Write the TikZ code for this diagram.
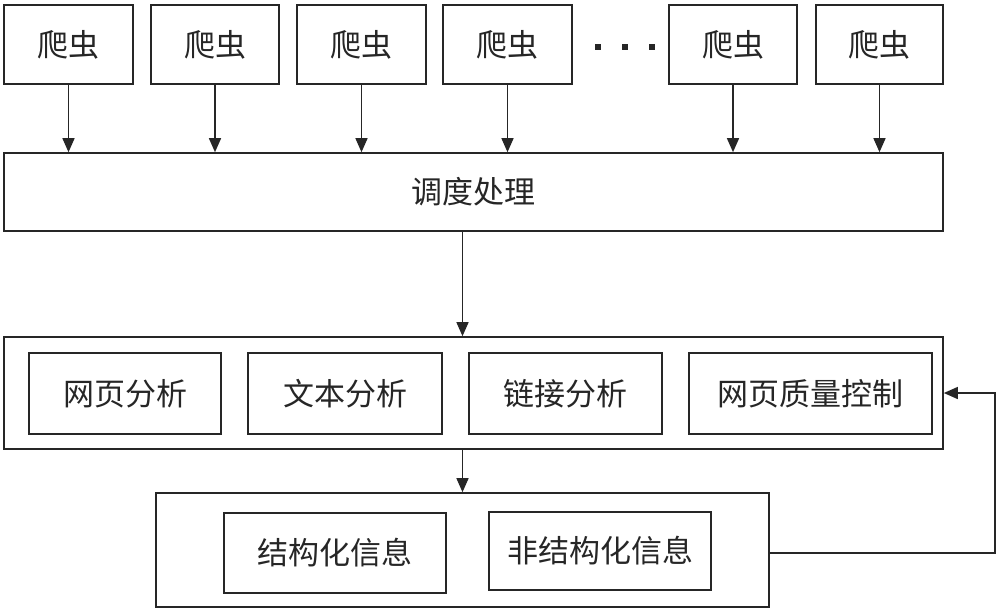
\documentclass[tikz,border=0pt]{standalone}
\usepackage{fontspec}
\setmainfont{Noto Sans CJK SC}
\usetikzlibrary{arrows.meta,calc}
\begin{document}
\begin{tikzpicture}[x=1pt,y=-1pt,
  box/.style={draw=black!85,line width=1.6pt,rectangle,inner sep=0pt,
    font=\fontsize{31}{34}\selectfont,text=black!85},
  arr/.style={draw=black!85,line width=1.4pt,-{Triangle[length=14pt,width=12pt]}}]
\useasboundingbox (0,0) rectangle (1000,611);
% crawlers
\node[box,minimum width=129pt,minimum height=79pt] (c1) at (68.5,44.5) {爬虫};
\node[box,minimum width=128pt,minimum height=79pt] (c2) at (215,44.5) {爬虫};
\node[box,minimum width=129pt,minimum height=79pt] (c3) at (361.5,44.5) {爬虫};
\node[box,minimum width=129pt,minimum height=79pt] (c4) at (507.5,44.5) {爬虫};
\node[box,minimum width=128pt,minimum height=79pt] (c5) at (733,44.5) {爬虫};
\node[box,minimum width=127pt,minimum height=79pt] (c6) at (879.5,44.5) {爬虫};
\foreach \x in {598,625,652}{\fill[black!85] (\x-3,44) rectangle (\x+3,50);}
% scheduling
\node[box,minimum width=939pt,minimum height=78pt] (sched) at (473.5,192) {调度处理};
\foreach \c in {c1,c2,c3,c4,c5,c6}{\draw[arr] (\c.south) -- (\c.south |- sched.north);}
% analysis
\node[box,minimum width=939pt,minimum height=112pt] (ana) at (473.5,393) {};
\node[box,minimum width=192pt,minimum height=81pt] (a1) at (125,393.5) {网页分析};
\node[box,minimum width=194pt,minimum height=81pt] (a2) at (345,393.5) {文本分析};
\node[box,minimum width=193pt,minimum height=81pt] (a3) at (565.5,393.5) {链接分析};
\node[box,minimum width=243pt,minimum height=81pt] (a4) at (810.5,393.5) {网页质量控制};
% info
\node[box,minimum width=613pt,minimum height=114pt] (info) at (462.5,550) {};
\node[box,minimum width=222pt,minimum height=80pt] (i1) at (335,553) {结构化信息};
\node[box,minimum width=222pt,minimum height=78pt] (i2) at (600,551) {非结构化信息};
% connectors
\draw[arr] (sched.south -| info.north) -- (ana.north -| info.north);
\draw[arr] (ana.south -| info.north) -- (info.north);
\coordinate (fb) at (995,553);
\draw[arr] (info.east |- fb) -- (fb) |- (ana.east);
\end{tikzpicture}
\end{document}
